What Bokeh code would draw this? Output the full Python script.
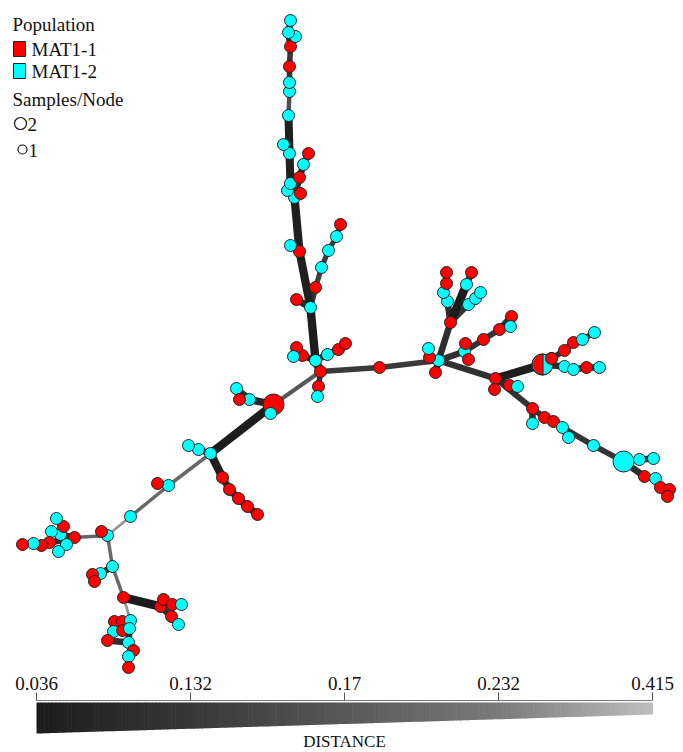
import numpy as np
from bokeh.plotting import figure
from bokeh.models import ColumnDataSource, Range1d
from bokeh.core.properties import value
from bokeh.embed import file_html
from bokeh.resources import INLINE

# ---------------- data ----------------
# node layout (minimum spanning network), population: R=MAT1-1, C=MAT1-2, M=mixed
node_x = [320, 379, 438, 273, 315, 318, 317, 302, 296, 293, 327, 338, 345, 310, 296, 315, 321, 328, 336, 340,
          299, 290, 294, 300, 287, 290, 299, 303, 308, 289, 283, 288, 289, 289, 289, 290, 295, 288, 290,
          270, 249, 236, 239, 210, 198, 188, 222, 229, 238, 247, 257, 168, 157,
          130, 107, 101, 74, 66, 60, 51, 63, 56, 49, 41, 33, 22, 58, 112, 100, 92, 94, 123, 160, 163, 172, 181,
          171, 178, 114, 122, 130, 113, 122, 129, 107, 128, 133, 128, 128,
          450, 466, 471, 447, 443, 446, 446, 468, 475, 480, 464, 465, 468, 483, 499, 511, 510, 429, 428, 435,
          495, 494, 509, 517, 542, 551, 564, 573, 582, 594, 564, 573, 586, 599, 532, 532, 544, 553, 562, 568,
          593, 623, 639, 653, 644, 655, 660, 669, 667]
node_y = [371, 367, 360, 404, 360, 386, 396, 355, 347, 356, 354, 349, 343, 307, 299, 287, 267, 250, 236, 224,
          251, 245, 197, 193, 190, 183, 177, 164, 153, 153, 144, 115, 91, 82, 66, 46, 36, 32, 20,
          413, 399, 388, 399, 453, 449, 445, 477, 489, 498, 506, 514, 485, 483,
          516, 535, 531, 537, 544, 534, 531, 526, 518, 542, 545, 543, 544, 551, 566, 573, 574, 581, 597, 606, 599, 604, 604,
          616, 624, 621, 621, 620, 631, 630, 628, 640, 642, 650, 656, 667,
          322, 284, 272, 301, 292, 283, 272, 304, 298, 292, 351, 343, 359, 339, 329, 316, 326, 357, 348, 372,
          378, 389, 385, 386, 364, 358, 350, 342, 339, 332, 366, 369, 367, 367, 408, 423, 417, 421, 427, 437,
          445, 461, 459, 458, 476, 478, 487, 489, 496]
node_pop = list("RRCRCRCRRCCRRCRRCCCR" "RCCRCCRCRCCCCCRRCCC"
                "CCCRCCCRRRRRCR"
                "CCRRCCCRCRRCRCCCRRRRRRCRC" "RRCCRCRCRCR"
                "RCRCCRRCCCCRRRRRCRCR" "RRRCMRRRCCCCRCRCRRCC" "CCCCRCRRR")
node_count = [2 if i in (3, 113, 130) else 1 for i in range(len(node_x))]

edge_src = [0, 0, 5, 4, 7, 7, 4, 10, 11, 4, 13, 13, 15, 16, 17, 18, 13, 20, 20, 22, 22, 24, 25, 22, 26, 27, 29, 29, 31, 32, 33, 34, 35, 35, 37,
            0, 0, 1,
            3, 3, 40, 40, 3, 43, 44, 43, 46, 47, 48, 49, 43, 51, 51, 53, 54, 54, 56, 56, 58, 58, 60, 56, 62, 63, 64, 57, 54, 67, 68, 68, 67, 71, 72, 72, 74, 72, 76, 71, 80, 79, 80, 83, 82, 83, 85, 85, 86, 87,
            2, 89, 90, 89, 92, 93, 94, 89, 96, 97, 2, 99, 99, 99, 102, 103, 103, 2, 106, 2, 2, 109, 109, 109, 111, 113, 114, 115, 116, 117, 113, 119, 120, 121, 109, 123, 123, 125, 126, 127, 127, 129, 130, 131, 130, 133, 134, 135, 135]
edge_dst = [4, 5, 6, 7, 8, 9, 10, 11, 12, 13, 14, 15, 16, 17, 18, 19, 20, 21, 22, 23, 24, 25, 29, 26, 27, 28, 30, 31, 32, 33, 34, 35, 37, 36, 38,
            3, 1, 2,
            39, 40, 41, 42, 43, 44, 45, 46, 47, 48, 49, 50, 51, 52, 53, 54, 55, 56, 57, 58, 59, 60, 61, 62, 63, 64, 65, 66, 67, 68, 69, 70, 71, 72, 73, 74, 75, 76, 77, 80, 79, 78, 83, 82, 81, 85, 84, 86, 87, 88,
            89, 90, 91, 92, 93, 94, 95, 96, 97, 98, 99, 100, 101, 102, 103, 104, 105, 106, 107, 108, 109, 113, 110, 111, 112, 114, 115, 116, 117, 118, 119, 120, 121, 122, 123, 124, 125, 126, 127, 128, 129, 130, 131, 132, 133, 134, 135, 136, 137]
edge_dist = [0.04, 0.13, 0.1, 0.1, 0.1, 0.1, 0.1, 0.1, 0.1, 0.04, 0.08, 0.13, 0.14, 0.14, 0.14, 0.14, 0.045, 0.1, 0.045, 0.1, 0.1, 0.1, 0.05, 0.1, 0.1, 0.1, 0.1, 0.05, 0.16, 0.13, 0.13, 0.13, 0.1, 0.1, 0.1,
             0.17, 0.135, 0.135,
             0.1, 0.07, 0.1, 0.1, 0.04, 0.1, 0.1, 0.045, 0.08, 0.08, 0.08, 0.08, 0.2, 0.1, 0.2, 0.3, 0.1, 0.19, 0.1, 0.1, 0.1, 0.1, 0.1, 0.1, 0.1, 0.1, 0.1, 0.1, 0.2, 0.1, 0.1, 0.1, 0.2, 0.036, 0.1, 0.1, 0.1, 0.1, 0.1, 0.3, 0.1, 0.1, 0.1, 0.1, 0.1, 0.1, 0.1, 0.1, 0.1, 0.1,
             0.1, 0.036, 0.1, 0.1, 0.1, 0.1, 0.1, 0.12, 0.1, 0.1, 0.11, 0.1, 0.1, 0.12, 0.12, 0.1, 0.1, 0.1, 0.1, 0.1, 0.11, 0.045, 0.1, 0.1, 0.1, 0.1, 0.12, 0.12, 0.12, 0.12, 0.1, 0.1, 0.1, 0.1, 0.12, 0.1, 0.12, 0.12, 0.12, 0.1, 0.12, 0.12, 0.1, 0.1, 0.1, 0.1, 0.1, 0.1, 0.1]

tick_values = [0.036, 0.132, 0.17, 0.232, 0.415]
tick_labels = ["0.036", "0.132", "0.17", "0.232", "0.415"]
legend_pops = ["MAT1-1", "MAT1-2"]
legend_sizes = ["2", "1"]

# ---------------- styles ----------------
RED = "#ff0000"
CYAN = "#00ffff"
OUTLINE = "#222222"
FONT = value("Liberation Serif")
gray_levels = [28, 55, 88, 122, 190]
width_levels = [8.5, 5.5, 4.0, 3.0, 2.0]


def gray_hex(g):
    g = int(round(g))
    return "#%02x%02x%02x" % (g, g, g)


W, H = 683, 752
p = figure(width=W, height=H, x_range=Range1d(0, W), y_range=Range1d(H, 0),
           output_backend="svg", toolbar_location=None, min_border=0)
p.axis.visible = False
p.grid.visible = False
p.outline_line_color = None
p.background_fill_color = "white"

# ---------------- edges ----------------
order = np.argsort(edge_dist)[::-1]
ex0 = [node_x[edge_src[i]] for i in order]
ey0 = [node_y[edge_src[i]] for i in order]
ex1 = [node_x[edge_dst[i]] for i in order]
ey1 = [node_y[edge_dst[i]] for i in order]
ecol = [gray_hex(np.interp(edge_dist[i], tick_values, gray_levels)) for i in order]
ewid = [float(np.interp(edge_dist[i], tick_values, width_levels)) for i in order]
p.segment(x0="x0", y0="y0", x1="x1", y1="y1", line_color="c", line_width="w",
          source=ColumnDataSource(dict(x0=ex0, y0=ey0, x1=ex1, y1=ey1, c=ecol, w=ewid)))

# ---------------- nodes ----------------
nx, ny, ncol, nsz = [], [], [], []
mixed = []
for i in range(len(node_x)):
    sz = 12 if node_count[i] == 1 else 21
    if node_pop[i] == "M":
        mixed.append((node_x[i], node_y[i], sz))
    else:
        nx.append(node_x[i]); ny.append(node_y[i]); nsz.append(sz)
        ncol.append(RED if node_pop[i] == "R" else CYAN)
p.scatter(x="x", y="y", size="s", fill_color="c", line_color=OUTLINE, line_width=1,
          source=ColumnDataSource(dict(x=nx, y=ny, s=nsz, c=ncol)))
for cx, cy, sz in mixed:
    r = sz / 2
    p.scatter(x=[cx], y=[cy], size=sz, fill_color=CYAN, line_color=OUTLINE, line_width=1)
    t = np.linspace(np.pi / 2, 3 * np.pi / 2, 40)
    hx = list(cx + 0.5 + (r - 0.5) * np.cos(t)) + [cx + 0.5]
    hy = list(cy + (r - 0.5) * np.sin(t)) + [cy - r + 0.5]
    p.patch(x=hx, y=hy, fill_color=RED, line_color=None)
    p.segment(x0=[cx + 0.5], y0=[cy - r], x1=[cx + 0.5], y1=[cy + r], line_color=OUTLINE, line_width=1)
    p.scatter(x=[cx], y=[cy], size=sz, fill_color=None, line_color=OUTLINE, line_width=1)
# small node overlapping the mixed node drawn on top again
ov = [i for i in range(len(node_x)) if i == 114]
p.scatter(x=[node_x[i] for i in ov], y=[node_y[i] for i in ov], size=12, fill_color=RED,
          line_color=OUTLINE, line_width=1)

# ---------------- legend ----------------
TXT = "#111111"
p.text(x=[12], y=[24], text=["Population"], text_font=FONT, text_font_size="19px",
       text_baseline="middle", text_color=TXT)
p.quad(left=[13, 13], right=[25, 25], top=[41, 63], bottom=[56, 78],
       fill_color=[RED, CYAN], line_color=OUTLINE, line_width=1)
p.text(x=[31, 31], y=[49, 71], text=legend_pops, text_font=FONT, text_font_size="19px",
       text_baseline="middle", text_color=TXT)
p.text(x=[12], y=[99], text=["Samples/Node"], text_font=FONT, text_font_size="19px",
       text_baseline="middle", text_color=TXT)
p.scatter(x=[20, 22], y=[123, 149], size=[12, 9], fill_color="white", line_color=TXT, line_width=1.2)
p.text(x=[27, 28], y=[124, 150], text=legend_sizes, text_font=FONT, text_font_size="19px",
       text_baseline="middle", text_color=TXT)

# ---------------- distance colour bar ----------------
bx0, bx1 = 36, 652
btop, bbot_l, bbot_r = 702, 733, 714
tick_pos = np.linspace(bx0, bx1, len(tick_values))
nstrip = 160
xs, ys, cs = [], [], []
for k in range(nstrip):
    a = bx0 + (bx1 - bx0) * k / nstrip
    b = bx0 + (bx1 - bx0) * (k + 1) / nstrip
    f = (k + 0.5) / nstrip
    g = np.interp(f, np.linspace(0, 1, len(gray_levels)), gray_levels)
    ya = bbot_l + (bbot_r - bbot_l) * (a - bx0) / (bx1 - bx0)
    yb = bbot_l + (bbot_r - bbot_l) * (b - bx0) / (bx1 - bx0)
    xs.append([a, b + 0.6, b + 0.6, a]); ys.append([btop, btop, yb, ya]); cs.append(gray_hex(g))
p.patches(xs="xs", ys="ys", fill_color="c", line_color=None,
          source=ColumnDataSource(dict(xs=xs, ys=ys, c=cs)))
p.segment(x0=[bx0], y0=[700], x1=[bx1], y1=[700], line_color="#777777", line_width=1)
p.segment(x0=list(tick_pos), y0=[692] * len(tick_pos), x1=list(tick_pos), y1=[700] * len(tick_pos),
          line_color="#555555", line_width=1)
p.text(x=list(tick_pos), y=[683] * len(tick_pos), text=tick_labels, text_font=FONT,
       text_font_size="19px", text_align="center", text_baseline="middle", text_color=TXT)
p.text(x=[(bx0 + bx1) / 2], y=[741], text=["DISTANCE"], text_font=FONT, text_font_size="17px",
       text_align="center", text_baseline="middle", text_color=TXT)

open("out.html", "w").write(file_html(p, INLINE))
